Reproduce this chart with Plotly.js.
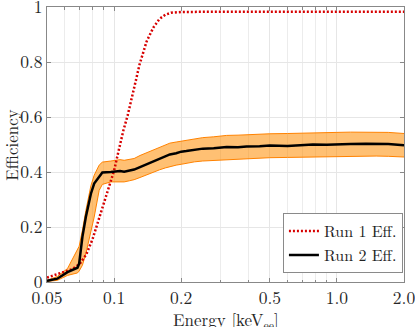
<!DOCTYPE html>
<html>
<head>
<meta charset="utf-8">
<script src="https://cdn.plot.ly/plotly-3.0.1.min.js"></script>
<style>html,body{margin:0;padding:0;background:#fff;}#chart{width:415px;height:327px;}</style>
</head>
<body>
<div id="chart"></div>
<script>
// Run 1 efficiency (red dotted)
const run1Energy = [0.05,0.055,0.06,0.065,0.07,0.075,0.08,0.085,0.09,0.095,0.1,0.105,0.11,0.115,0.12,0.125,0.13,0.14,0.15,0.16,0.17,0.18,0.2,0.25,0.35,0.5,0.7,1.0,1.4,2.0];
const run1Eff    = [0.016,0.028,0.037,0.047,0.065,0.1,0.155,0.222,0.285,0.34,0.405,0.48,0.55,0.605,0.665,0.73,0.79,0.875,0.925,0.957,0.972,0.979,0.982,0.983,0.983,0.983,0.983,0.983,0.983,0.983];

// Run 2 efficiency (black) with uncertainty band
const run2Energy = [0.05,0.0556,0.0618,0.0685,0.0697,0.0721,0.0747,0.0787,0.0814,0.0857,0.0886,0.0967,0.1063,0.111,0.117,0.123,0.1307,0.14,0.15,0.16,0.17,0.178,0.19,0.2,0.211,0.23,0.25,0.28,0.32,0.36,0.393,0.45,0.5,0.6,0.7,0.78,0.9,1.0,1.15,1.35,1.5,1.7,2.0];
const run2Eff    = [0.004,0.012,0.036,0.052,0.067,0.164,0.236,0.321,0.358,0.385,0.398,0.400,0.404,0.401,0.405,0.409,0.418,0.428,0.440,0.447,0.458,0.464,0.468,0.474,0.476,0.481,0.485,0.486,0.491,0.490,0.493,0.494,0.496,0.495,0.498,0.4996,0.499,0.501,0.502,0.503,0.503,0.502,0.497];
const run2Upper  = [0.006,0.020,0.049,0.115,0.130,0.188,0.260,0.350,0.388,0.425,0.436,0.440,0.445,0.4425,0.446,0.449,0.460,0.470,0.483,0.490,0.500,0.505,0.509,0.512,0.515,0.520,0.525,0.528,0.533,0.534,0.536,0.537,0.539,0.540,0.542,0.543,0.543,0.544,0.545,0.545,0.545,0.544,0.540];
const run2Lower  = [0.002,0.006,0.024,0.033,0.040,0.061,0.103,0.180,0.236,0.333,0.355,0.364,0.364,0.364,0.368,0.372,0.380,0.390,0.400,0.408,0.415,0.420,0.425,0.428,0.432,0.437,0.440,0.442,0.445,0.447,0.449,0.451,0.452,0.453,0.454,0.4545,0.455,0.456,0.457,0.458,0.458,0.457,0.4545];

// Axis ticks and titles
const xTickVals  = [0.05,0.1,0.2,0.5,1,2];
const xTickText  = ['0.05','0.1','0.2','0.5','1.0','2.0'];
const xMinorVals = [0.06,0.07,0.08,0.09,0.3,0.4,0.6,0.7,0.8,0.9];
const yTickVals  = [0,0.2,0.4,0.6,0.8,1];
const yTickText  = ['0','0.2','0.4','0.6','0.8','1'];
const xTitle = 'Energy [keV<sub>ee</sub>]';
const yTitle = 'Efficiency';

const FONT = 'Latin Modern Roman';
const FS = 17.5;
const TXT = '#262626';

const traces = [
  {x: run2Energy, y: run2Lower, mode: 'lines', line: {color: 'rgb(255,130,0)', width: 1}, showlegend: false, hoverinfo: 'skip'},
  {x: run2Energy, y: run2Upper, mode: 'lines', line: {color: 'rgb(255,130,0)', width: 1}, fill: 'tonexty', fillcolor: 'rgba(255,140,0,0.55)', showlegend: false, hoverinfo: 'skip'},
  {x: run1Energy, y: run1Eff, mode: 'lines', name: 'Run 1 Eff.', line: {color: 'rgb(215,0,0)', width: 2.5, dash: '2px,2px'}},
  {x: run2Energy, y: run2Eff, mode: 'lines', name: 'Run 2 Eff.', line: {color: '#000', width: 2.5}}
];

const layout = {
  width: 415, height: 327,
  margin: {l: 47, r: 11, t: 7, b: 45},
  paper_bgcolor: '#fff', plot_bgcolor: '#fff',
  font: {family: FONT, size: FS, color: TXT},
  showlegend: true,
  legend: {x: 0.997, xanchor: 'right', y: 0.032, yanchor: 'bottom', bgcolor: '#fff', bordercolor: '#8a8a8a', borderwidth: 1,
           traceorder: 'normal', font: {family: FONT, size: 16, color: '#222'}, tracegroupgap: 0, itemwidth: 30},
  xaxis: {
    type: 'log', range: [Math.log10(0.05), Math.log10(2)],
    tickmode: 'array', tickvals: xTickVals, ticktext: xTickText,
    ticks: 'inside', ticklen: 4, tickcolor: '#888', mirror: 'ticks',
    showline: true, linecolor: '#888', linewidth: 1, ticklabeloverflow: 'allow',
    showgrid: true, gridcolor: '#e6e6e6', gridwidth: 1, zeroline: false,
    minor: {tickvals: xMinorVals, ticks: 'inside', ticklen: 2.5, tickcolor: '#888', showgrid: true, gridcolor: '#ececec', griddash: 'solid'},
    tickfont: {family: FONT, size: FS, color: TXT}
  },
  yaxis: {
    range: [0, 1], tickmode: 'array', tickvals: yTickVals, ticktext: yTickText,
    ticks: 'inside', ticklen: 4, tickcolor: '#888', mirror: 'ticks',
    showline: true, linecolor: '#888', linewidth: 1, ticklabeloverflow: 'allow',
    showgrid: true, gridcolor: '#e6e6e6', gridwidth: 1, zeroline: false,
    tickfont: {family: FONT, size: FS, color: TXT}
  },
  annotations: [
    {text: xTitle, xref: 'paper', yref: 'paper', x: 0.5, y: -0.138, xanchor: 'center', yanchor: 'middle', showarrow: false,
     font: {family: FONT, size: 17, color: TXT}},
    {text: yTitle, xref: 'paper', yref: 'paper', x: -0.103, y: 0.5, xanchor: 'center', yanchor: 'middle', textangle: -90, showarrow: false,
     font: {family: FONT, size: 17, color: TXT}}
  ]
};

Plotly.newPlot('chart', traces, layout, {staticPlot: true, displayModeBar: false});
</script>
</body>
</html>
